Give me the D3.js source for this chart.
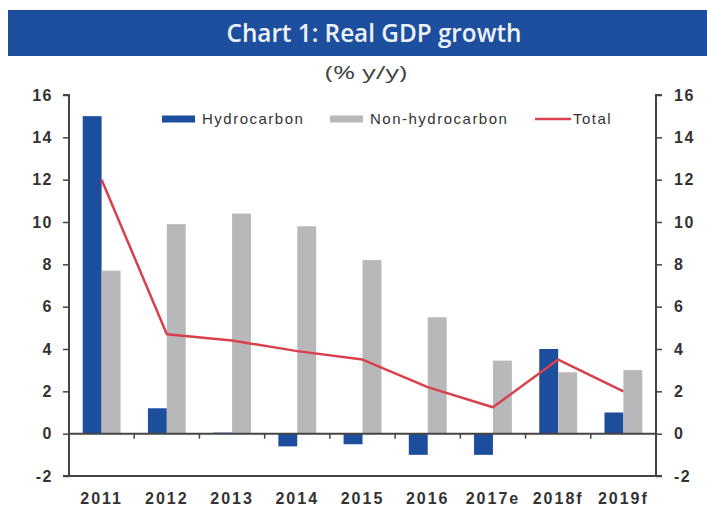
<!DOCTYPE html>
<html>
<head>
<meta charset="utf-8">
<script src="https://cdn.jsdelivr.net/npm/d3@7"></script>
<style>
  html, body { margin: 0; padding: 0; background: #ffffff; }
  svg { display: block; }
</style>
</head>
<body>
<svg id="chart" width="707" height="509"></svg>
<script>
// ---- data ----
const categories = ["2011", "2012", "2013", "2014", "2015", "2016", "2017e", "2018f", "2019f"];
const hydrocarbon = [15.0, 1.2, 0.05, -0.6, -0.5, -1.0, -1.0, 4.0, 1.0];
const nonHydrocarbon = [7.7, 9.9, 10.4, 9.8, 8.2, 5.5, 3.45, 2.9, 3.0];
const total = [12.0, 4.7, 4.4, 3.9, 3.5, 2.2, 1.25, 3.5, 2.0];
const yTicks = [-2, 0, 2, 4, 6, 8, 10, 12, 14, 16];
const seriesNames = ["Hydrocarbon", "Non-hydrocarbon", "Total"];
const titleText = "Chart 1: Real GDP growth";
const subtitleText = "(% y/y)";

// ---- layout ----
const svg = d3.select("#chart");
const pLeft = 69, pRight = 656, pTop = 95, pBottom = 476;
const colHydro = "#1d4e9e", colNon = "#b8b8bb", colTotal = "#d8404c", axisCol = "#444";

const x = d3.scaleBand().domain(categories).range([pLeft, pRight]).paddingInner(0.42).paddingOuter(0.21);
const x1 = d3.scaleBand().domain(seriesNames.slice(0, 2)).range([0, x.bandwidth()]);
const y = d3.scaleLinear().domain([-2, 16]).range([pBottom, pTop]);

// title bar
svg.append("rect").attr("x", 8).attr("y", 10).attr("width", 699).attr("height", 46).attr("fill", "#1d4f9e");
svg.append("text").attr("x", 374).attr("y", 42).attr("text-anchor", "middle")
  .attr("font-family", "Open Sans").attr("font-weight", 600).attr("font-size", 26)
  .attr("fill", "#eef2fb").attr("textLength", 295).attr("lengthAdjust", "spacingAndGlyphs")
  .text(titleText);
svg.append("text").attr("x", 366).attr("y", 79).attr("text-anchor", "middle")
  .attr("font-family", "Open Sans").attr("font-size", 19).attr("fill", "#444")
  .attr("textLength", 82).attr("lengthAdjust", "spacingAndGlyphs")
  .text(subtitleText);

// bars
const barData = categories.map((c, i) => ({ c, vals: [hydrocarbon[i], nonHydrocarbon[i]] }));
const g = svg.append("g");
g.selectAll("g.cat").data(barData).join("g").attr("class", "cat")
  .attr("transform", d => `translate(${x(d.c)},0)`)
  .selectAll("rect").data(d => d.vals.map((v, k) => ({ k, v })))
  .join("rect")
  .attr("x", d => x1(seriesNames[d.k]))
  .attr("width", x1.bandwidth())
  .attr("y", d => y(Math.max(0, d.v)))
  .attr("height", d => Math.abs(y(d.v) - y(0)))
  .attr("fill", d => d.k === 0 ? colHydro : colNon);

// axes
const fontTick = "Liberation Sans, Arial, sans-serif";
const leftAxis = d3.axisLeft(y).tickValues(yTicks).tickSize(6).tickPadding(10).tickFormat(d => String(d));
const rightAxis = d3.axisRight(y).tickValues(yTicks).tickSize(6).tickPadding(12).tickFormat(d => String(d));
function styleAxis(sel) {
  sel.select(".domain").attr("stroke", axisCol).attr("stroke-width", 2);
  sel.selectAll(".tick line").attr("stroke", axisCol).attr("stroke-width", 1.5);
  sel.selectAll(".tick text").attr("font-family", fontTick).attr("font-weight", "bold")
    .attr("font-size", 16).attr("fill", "#333").attr("letter-spacing", 1.5);
}
svg.append("g").attr("transform", `translate(${pLeft},0)`).call(leftAxis).call(styleAxis)
  .call(s => s.select(".domain").attr("d", `M-6,${pBottom}H0V${pTop}H-6`));
svg.append("g").attr("transform", `translate(${pRight},0)`).call(rightAxis).call(styleAxis)
  .call(s => s.select(".domain").attr("d", `M6,${pBottom}H0V${pTop}H6`));

// bottom frame line
svg.append("line").attr("x1", pLeft).attr("x2", pRight).attr("y1", y(-2)).attr("y2", y(-2))
  .attr("stroke", axisCol).attr("stroke-width", 2);

// zero line with category ticks
const xAxis = d3.axisBottom(x).tickSize(0).tickPadding(0);
const xg = svg.append("g").attr("transform", `translate(0,${y(0)})`).call(xAxis);
xg.select(".domain").attr("d", `M${pLeft},0H${pRight}`).attr("stroke", axisCol).attr("stroke-width", 2);
xg.selectAll(".tick text").remove();
xg.selectAll(".tick").append("line")
  .attr("x1", -x.step() / 2).attr("x2", -x.step() / 2).attr("y1", 0).attr("y2", 5)
  .attr("stroke", axisCol).attr("stroke-width", 1.5)
  .attr("display", (d, i) => i === 0 ? "none" : null);

// category labels
svg.append("g").selectAll("text").data(categories).join("text")
  .attr("x", d => x(d) + x.bandwidth() / 2).attr("y", 504).attr("text-anchor", "middle")
  .attr("font-family", fontTick).attr("font-weight", "bold").attr("font-size", 16)
  .attr("letter-spacing", 2).attr("fill", "#333").text(d => d);

// total line
const line = d3.line().x((d, i) => x(categories[i]) + x.bandwidth() / 2).y(d => y(d));
svg.append("path").datum(total).attr("d", line).attr("fill", "none")
  .attr("stroke", colTotal).attr("stroke-width", 2.5).attr("stroke-linejoin", "round");

// legend
const legend = [
  { name: seriesNames[0], type: "rect", color: colHydro, x: 162 },
  { name: seriesNames[1], type: "rect", color: colNon, x: 330 },
  { name: seriesNames[2], type: "line", color: colTotal, x: 535 }
];
const lg = svg.append("g").selectAll("g").data(legend).join("g").attr("transform", d => `translate(${d.x},119)`);
lg.filter(d => d.type === "rect").append("rect").attr("x", 0).attr("y", -3.5).attr("width", 33).attr("height", 7).attr("fill", d => d.color);
lg.filter(d => d.type === "line").append("line").attr("x1", 0).attr("x2", 36).attr("y1", 0).attr("y2", 0)
  .attr("stroke", d => d.color).attr("stroke-width", 2.5);
lg.append("text").attr("x", d => d.type === "line" ? 38 : 40).attr("y", 5)
  .attr("font-family", fontTick).attr("font-size", 15).attr("letter-spacing", 1.5)
  .attr("fill", "#333").text(d => d.name);
</script>
</body>
</html>
